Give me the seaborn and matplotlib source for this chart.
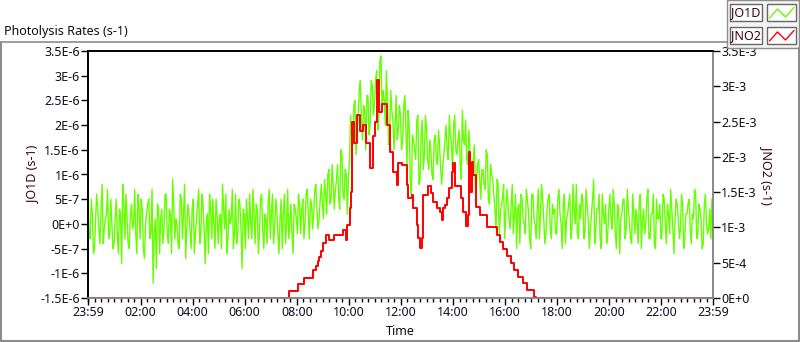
import numpy as np
import matplotlib
matplotlib.use("Agg")
import matplotlib.pyplot as plt
import seaborn as sns
from matplotlib.lines import Line2D
from matplotlib.patches import Rectangle
from matplotlib.ticker import MultipleLocator

# JO1D samples every 5 min starting 23:59, in units of 1e-7 s-1
jo1d_e7 = [
    4, -3, 2, -5, 6, -1, 3, -4, 1, 7, -2, 0,
    -4, 5, -6, 2, 8, -3, 1, -5, 4, 0, -2, 6,
    -3, 3, -7, 2, 5, -2, -12, 1, 4, -6, 3, -1,
    6, -4, 2, 9, -3, 0, -5, 5, 2, -7, 4, -1,
    3, -6, 1, 7, -2, 4, -8, 2, 6, -3, 0, 5,
    -4, 2, 8, -1, -6, 3, 1, -5, 6, -2, 4, -9,
    2, 5, -3, 0, 7, -4, 3, -2, 6, -5, 1, 4,
    -3, 6, -1, 3, -6, 5, 2, -4, 7, 0, -2, 4,
    1, 6, -2, 5, 0, 7, -3, 4, 2, 8, -1, 5,
    4, 9, 2, 11, 5, 8, 7, 12, 3, 14, 5, 10,
    9, 22, 16, 25, 19, 27, 21, 24, 15, 26, 20, 28,
    24, 31, 22, 34, 27, 20, 25, 18, 23, 15, 26, 19,
    22, 17, 26, 12, 20, 6, 17, 13, 22, 9, 21, 14,
    19, 11, 15, 9, 18, 12, 16, 8, 14, 20, 13, 18,
    11, 22, 14, 19, 9, 17, 21, 12, 15, 10, 16, 8,
    13, 5, 11, 7, 14, 4, 10, 6, -1, 8, 2, 5,
    -3, 7, 1, 4, -2, 6, 3, -4, 5, 0, 7, 2,
    -5, 6, 0, 3, -3, 8, 1, -2, 5, -1, 4, 3,
    -2, 7, 0, 4, -4, 2, 6, -1, 3, 8, -3, 1,
    5, -2, 4, -5, 2, 9, -1, 3, -3, 6, 0, -4,
    3, 1, 7, -2, 4, -6, 2, 5, -1, 3, -3, 6,
    -2, 1, 4, -5, 3, 0, 7, -3, 2, -4, 5, 1,
    -3, 6, 0, 4, -2, 3, -6, 5, 1, -1, 4, -3,
    2, 5, -4, 1, 6, -2, 3, -5, 4, 0, -1, -3,
    -2,
]
# JO1D samples in between (2.5 min after each of the above), 1e-7 s-1
jo1d_mid_e7 = [
    -2, 5, -6, 1, 3, -4, 8, -1, 2, -3, 5, -5,
    1, -2, 3, -8, 4, 6, -4, 2, -1, 7, -6, 3,
    5, -5, 0, 4, -3, 7, -2, -9, 3, 1, -4, 6,
    -2, 3, -6, 4, 1, -4, 6, -3, 8, -1, 2, -5,
    5, -2, 4, -4, 6, -1, 0, -6, 3, 5, -5, 2,
    1, -5, 3, 6, -3, 0, 7, -2, -4, 5, -1, 3,
    -5, 1, 6, -3, 2, 4, -6, 5, -1, 2, -4, 7,
    2, -4, 5, -2, 1, -5, 6, 0, -3, 4, -6, 3,
    -2, 4, 3, -3, 6, 2, 5, -1, 7, 3, 1, 8,
    1, 6, 10, 4, 12, 3, 9, 5, 15, 6, 11, 2,
    13, 18, 24, 14, 22, 29, 17, 23, 26, 18, 29, 22,
    29, 19, 33, 23, 25, 31, 16, 27, 21, 20, 17, 24,
    15, 24, 19, 23, 9, 18, 15, 21, 8, 18, 11, 22,
    13, 17, 10, 17, 13, 19, 11, 12, 17, 15, 22, 16,
    20, 15, 17, 12, 23, 16, 13, 19, 10, 13, 7, 12,
    9, 11, 8, 15, 5, 12, 9, 3, 9, -2, 4, 8,
    2, 4, -1, 8, 2, -5, 4, 6, 1, -2, 5, -3,
    6, 1, -3, 7, 2, 5, -4, 3, 6, -3, 2, -2,
    5, 2, -5, 6, 1, 4, -3, 8, 0, -2, 4, 6,
    -3, 7, 1, -1, 5, -4, 3, 6, -5, 2, 4, -2,
    6, -1, 4, -5, 3, 1, 5, -3, 7, 0, -4, 2,
    3, -4, 6, 1, -2, 5, -3, 2, 6, -5, 1, 4,
    -2, 5, -4, 2, 7, -1, 1, 4, -3, 6, -5, 2,
    4, -1, 2, 7, -3, 4, 1, -4, 6, -2, 3, 5,
]

# JNO2 step changes: hour of day and value in 1e-3 s-1
jno2_hours = [
    -0.017, 7.72, 8.04, 8.29, 8.64, 8.73, 8.81, 8.87, 8.93, 9.00, 9.12, 9.24,
    9.44, 9.77, 9.88, 9.94, 10.05, 10.08, 10.12, 10.20, 10.30, 10.43, 10.55,
    10.66, 10.82, 10.93, 11.00, 11.09, 11.16, 11.27, 11.46, 11.58, 11.70,
    11.84, 11.90, 12.03, 12.22, 12.29, 12.42, 12.48, 12.61, 12.67, 12.73,
    12.80, 12.86, 13.05, 13.15, 13.25, 13.38, 13.50, 13.57, 13.63, 13.71,
    13.78, 13.86, 13.95, 14.01, 14.08, 14.30, 14.40, 14.50, 14.57, 14.60,
    14.65, 14.72, 14.78, 14.88, 15.04, 15.30, 15.68, 15.81, 15.93, 16.09,
    16.22, 16.34, 16.51, 16.68, 16.83, 17.11, 17.19, 23.983,
]
jno2_e3 = [
    0.0, 0.10, 0.20, 0.29, 0.40, 0.46, 0.53, 0.58, 0.66, 0.78, 0.89, 0.82,
    0.89, 0.96, 0.82, 1.03, 1.27, 1.50, 2.50, 2.20, 2.59, 2.36, 2.45,
    2.20, 1.84, 2.30, 2.50, 3.09, 2.64, 2.75, 2.45, 2.07, 1.79,
    1.60, 1.91, 1.88, 1.60, 1.42, 1.46, 1.27, 1.03, 0.85, 0.71,
    0.85, 1.46, 1.58, 1.49, 1.36, 1.27, 1.22, 1.10, 1.27, 1.32,
    1.42, 1.56, 1.79, 1.91, 1.58, 1.42, 1.22, 1.02, 1.18, 2.07,
    1.50, 1.93, 1.74, 1.29, 1.18, 1.01, 0.89, 0.80, 0.70, 0.59,
    0.49, 0.40, 0.30, 0.21, 0.11, 0.02, 0.0, 0.0,
]

x_ticks = [-0.017, 2, 4, 6, 8, 10, 12, 14, 16, 18, 20, 22, 23.983]
x_labels = ["23:59", "02:00", "04:00", "06:00", "08:00", "10:00", "12:00",
            "14:00", "16:00", "18:00", "20:00", "22:00", "23:59"]
left_ticks = [-1.5e-6, -1e-6, -5e-7, 0, 5e-7, 1e-6, 1.5e-6, 2e-6, 2.5e-6, 3e-6, 3.5e-6]
left_labels = ["-1.5E-6", "-1E-6", "-5E-7", "0E+0", "5E-7", "1E-6", "1.5E-6",
               "2E-6", "2.5E-6", "3E-6", "3.5E-6"]
right_ticks = [0, 5e-4, 1e-3, 1.5e-3, 2e-3, 2.5e-3, 3e-3, 3.5e-3]
right_labels = ["0E+0", "5E-4", "1E-3", "1.5E-3", "2E-3", "2.5E-3", "3E-3", "3.5E-3"]

GREEN = "#66ff00"
RED = "#ff0000"
LABEL_C = "#3a0018"
TEXT_C = "#140a14"
TICK_C = "#101020"

sns.set_style("white")
plt.rcParams["font.family"] = ["Noto Sans", "DejaVu Sans"]
plt.rcParams["font.size"] = 9

# interleave the two JO1D lists onto a 2.5 min grid
jo1d = np.empty(len(jo1d_e7) + len(jo1d_mid_e7))
jo1d[0::2] = jo1d_e7
jo1d[1::2] = jo1d_mid_e7
jo1d = jo1d * 1e-7
hours = np.arange(len(jo1d)) * 2.5 / 60 - 1 / 60
jno2 = np.array(jno2_e3) * 1e-3

fig = plt.figure(figsize=(8, 3.42), dpi=100)
ax = fig.add_axes([88 / 800, 1 - 298 / 342, 625 / 800, 247 / 342])
ax2 = ax.twinx()

sns.lineplot(x=hours, y=jo1d, ax=ax, color=GREEN, linewidth=1.0, estimator=None)
sns.lineplot(x=jno2_hours, y=jno2, ax=ax2, color=RED, linewidth=1.4,
             estimator=None, drawstyle="steps-post")

ax.set_xlim(-1 / 60, 23 + 59 / 60)
ax.set_ylim(-1.5e-6, 3.5e-6)
ax2.set_ylim(0, 3.5e-3)
ax.set_xticks(x_ticks)
ax.set_xticklabels(x_labels)
ax.xaxis.set_minor_locator(MultipleLocator(0.25))
ax.set_yticks(left_ticks)
ax.set_yticklabels(left_labels)
ax2.set_yticks(right_ticks)
ax2.set_yticklabels(right_labels)

for a in (ax, ax2):
    a.tick_params(axis="both", which="major", direction="out", length=5, width=1,
                  color="black", labelcolor=TICK_C, labelsize=9, pad=1)
    a.tick_params(axis="x", which="minor", direction="out", length=3, width=1,
                  color="black", bottom=True)
    for side in ("left", "top"):
        a.spines[side].set_color("black")
        a.spines[side].set_linewidth(1.2)
    for side in ("right", "bottom"):
        a.spines[side].set_color("#888888")
        a.spines[side].set_linewidth(1.2)
ax.tick_params(axis="x", which="both", bottom=True)
ax.tick_params(axis="y", left=True)
ax2.tick_params(axis="y", right=True)

ax.set_xlabel("Time", color=TEXT_C, fontsize=9, labelpad=4)
ax.set_ylabel("JO1D (s-1)", color=LABEL_C, fontsize=9, labelpad=1)
ax2.set_ylabel("JNO2 (s-1)", color=LABEL_C, fontsize=9, rotation=270, labelpad=12)

# panel frame and title
W, H = 800, 342
def fx(px):
    return px / W
def fy(py):
    return 1 - py / H

frame_c = "#8c8c8c"
fig.add_artist(Line2D([fx(1), fx(727)], [fy(42), fy(42)], color=frame_c, lw=1.2))
fig.add_artist(Line2D([fx(1), fx(1)], [fy(42), fy(341)], color=frame_c, lw=1.5))
fig.add_artist(Line2D([fx(1), fx(799)], [fy(341), fy(341)], color=frame_c, lw=1.5))
fig.add_artist(Line2D([fx(799), fx(799)], [fy(48), fy(341)], color=frame_c, lw=1.5))
fig.add_artist(Rectangle((fx(727), fy(48)), fx(72), 48 / H, facecolor="#f4f4f4",
                         edgecolor=frame_c, lw=1.0))
fig.text(fx(4), fy(32), "Photolysis Rates (s-1)", color=TEXT_C, fontsize=9, va="center")

# legend
for row, (name, col) in enumerate([("JO1D", GREEN), ("JNO2", RED)]):
    top = 4 + row * 23
    fig.add_artist(Rectangle((fx(730), fy(top + 17)), fx(32), 17 / H,
                             facecolor="white", edgecolor="#666666", lw=1.0))
    fig.text(fx(746), fy(top + 8.5), name, color=LABEL_C, fontsize=9,
             ha="center", va="center")
    fig.add_artist(Rectangle((fx(767), fy(top + 17)), fx(29), 17 / H,
                             facecolor="white", edgecolor="#666666", lw=1.0))
    zx = [769.5, 777.5, 785.5, 794]
    zy = [top + 14, top + 5, top + 13, top + 3.5]
    fig.add_artist(Line2D([fx(v) for v in zx], [fy(v) for v in zy], color=col, lw=1.0))

fig.savefig("out.png", dpi=100)
